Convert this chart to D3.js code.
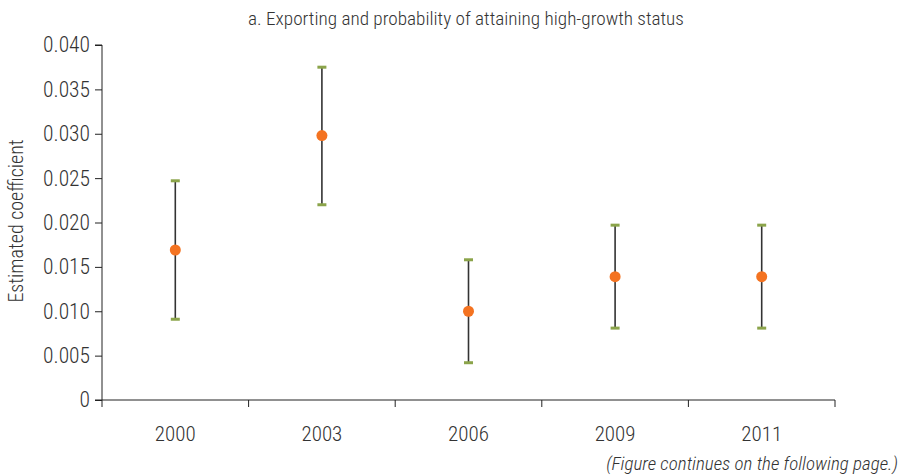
<!DOCTYPE html>
<html><head><meta charset="utf-8">
<script src="https://cdn.jsdelivr.net/npm/d3@7"></script>
<style>
body{margin:0;background:#fff;}
text{font-family:"Roboto Condensed","Liberation Sans Narrow","Liberation Sans",sans-serif;font-weight:300;fill:#333;}
</style></head>
<body><svg id="c" width="904" height="476"></svg>
<script>
const categories = ["2000","2003","2006","2009","2011"];
const estimates = [0.0169, 0.0298, 0.0100, 0.0139, 0.0139];
const lowerBounds = [0.0091, 0.0220, 0.0042, 0.0081, 0.0081];
const upperBounds = [0.0247, 0.0375, 0.0158, 0.0197, 0.0197];
const yTicks = [0, 0.005, 0.010, 0.015, 0.020, 0.025, 0.030, 0.035, 0.040];
const yTickLabels = ["0","0.005","0.010","0.015","0.020","0.025","0.030","0.035","0.040"];
const title = "a. Exporting and probability of attaining high-growth status";
const yTitle = "Estimated coefficient";
const note = "(Figure continues on the following page.)";

const svg = d3.select("#c");
const mLeft = 102, mRight = 835, mTop = 45, mBottom = 400;
const x = d3.scaleBand().domain(categories).range([mLeft, mRight]);
const y = d3.scaleLinear().domain([0, 0.04]).range([mBottom, mTop]);

// y axis
const ya = svg.append("g").attr("transform", `translate(${mLeft},0)`)
  .call(d3.axisLeft(y).tickValues(yTicks).tickFormat((d,i)=>yTickLabels[i]).tickSize(7).tickPadding(5));
ya.select(".domain").attr("stroke","#222").attr("d", `M-7,${mTop}H0V${mBottom}`);
ya.selectAll(".tick line").attr("stroke","#222");
ya.selectAll("text").attr("font-size", 21.5).attr("font-family", null).style("fill","#333");

// x axis
const xa = svg.append("g").attr("transform", `translate(0,${mBottom})`);
xa.append("line").attr("x1", mLeft - 7).attr("x2", mRight).attr("y1", 0).attr("y2", 0).attr("stroke","#222");
const bounds = categories.map(c => x(c)).concat([mRight]);
xa.selectAll("line.t").data(bounds).enter().append("line").attr("class","t")
  .attr("x1", d=>d).attr("x2", d=>d).attr("y1", 0).attr("y2", 7).attr("stroke","#222");
xa.selectAll("text").data(categories).enter().append("text")
  .attr("x", d => x(d) + x.bandwidth()/2).attr("y", 41)
  .attr("text-anchor","middle").attr("font-size", 21).text(d=>d);

// error bars
const g = svg.append("g");
categories.forEach((c,i) => {
  const cx = x(c) + x.bandwidth()/2;
  g.append("line").attr("x1",cx).attr("x2",cx).attr("y1",y(lowerBounds[i])).attr("y2",y(upperBounds[i]))
    .attr("stroke","#333").attr("stroke-width",1.6);
  [lowerBounds[i], upperBounds[i]].forEach(v => {
    g.append("line").attr("x1",cx-4.5).attr("x2",cx+4.5).attr("y1",y(v)).attr("y2",y(v))
      .attr("stroke","#8ba44a").attr("stroke-width",3);
  });
  g.append("circle").attr("cx",cx).attr("cy",y(estimates[i])).attr("r",5.5).attr("fill","#f47321");
});

// titles
svg.append("text").attr("x", 466).attr("y", 25).attr("text-anchor","middle").attr("font-size",19.2).text(title);
svg.append("text").attr("transform","translate(23,221) rotate(-90)").attr("text-anchor","middle").attr("font-size",20).text(yTitle);
svg.append("text").attr("x", 898).attr("y", 470).attr("text-anchor","end").attr("font-size",19).attr("font-style","italic").text(note);
</script></body></html>
